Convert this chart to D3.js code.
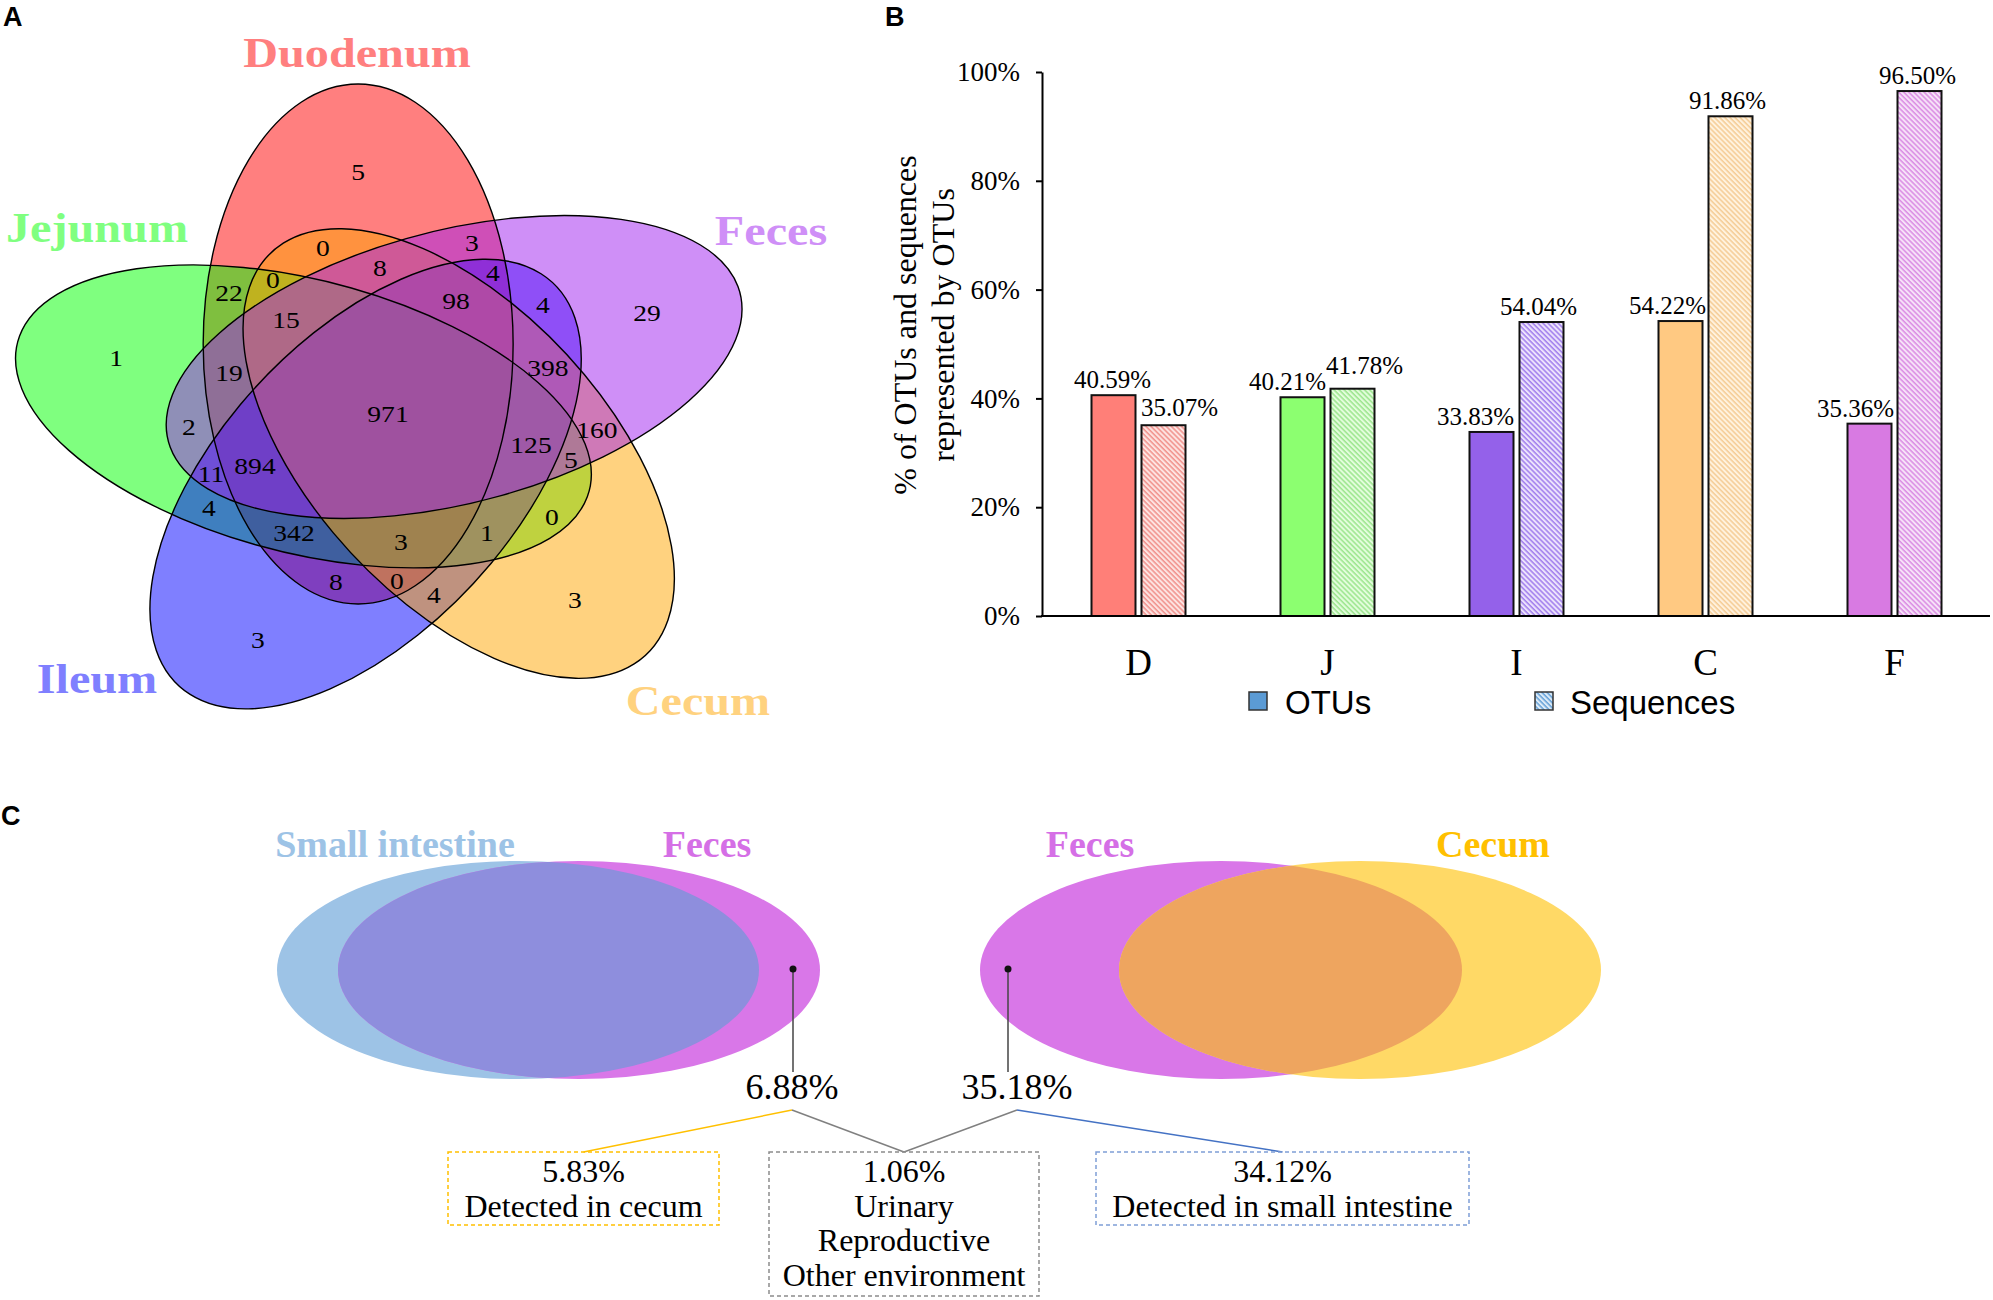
<!DOCTYPE html>
<html>
<head>
<meta charset="utf-8">
<script src="https://cdn.jsdelivr.net/npm/d3@7"></script>
<style>
  body { margin: 0; background: #fff; }
  svg { display: block; }
</style>
</head>
<body>
<div id="chart"></div>
<script>
// ---------- data ----------
// A: five-set Venn (counts listed in the same order as vennCountXY below)
const vennSets = ["Duodenum", "Jejunum", "Ileum", "Cecum", "Feces"];
const vennCounts = [5, 0, 8, 22, 0, 15, 1, 19, 2, 971, 3, 4, 98, 4, 29, 398,
                    160, 125, 5, 11, 894, 4, 342, 8, 3, 3, 1, 0, 0, 4, 3];

// B: grouped bars
const barCats = ["D", "J", "I", "C", "F"];
const barSeries = ["OTUs", "Sequences"];
const otuPct = [40.59, 40.21, 33.83, 54.22, 35.36];
const seqPct = [35.07, 41.78, 54.04, 91.86, 96.50];
const yTicks = [0, 20, 40, 60, 80, 100];

// C: two-set comparisons
const pairLeft = ["Small intestine", "Feces"];
const pairRight = ["Feces", "Cecum"];
const uniquePct = [6.88, 35.18];
const splitPct = [5.83, 1.06, 34.12];
const splitText = [["Detected in cecum"], ["Urinary", "Reproductive", "Other environment"], ["Detected in small intestine"]];

// ---------- layout / style ----------
const W = 1993, H = 1300;
const serif = "'Liberation Serif','Times New Roman',serif";
const sans = "'Liberation Sans',Arial,sans-serif";

const svg = d3.select("#chart").append("svg")
  .attr("width", W).attr("height", H)
  .attr("viewBox", [0, 0, W, H]);

svg.append("rect").attr("width", W).attr("height", H).attr("fill", "#fff");

// panel letters
svg.selectAll("text.panel")
  .data([["A", 3, 26], ["B", 885, 26], ["C", 1, 825]])
  .join("text")
    .attr("class", "panel")
    .attr("x", d => d[1]).attr("y", d => d[2])
    .attr("font-family", sans).attr("font-weight", "bold").attr("font-size", 27)
    .text(d => d[0]);

// ===== A: Venn =====
const venn = { cx: 388, cy: 413, sx: 1.148, u: -26, v: -69, a: 260, b: 135 };
const vennFill = ["#ff0000", "#00ff00", "#0000ff", "#ffa500", "#a020f0"];
const vennRot = [0, 72, 144, 216, 288];
const vennNameColor = ["#ff7f7f", "#80ff80", "#7f7fff", "#ffd27f", "#cf8ff7"];
const vennNameXY = [[357, 67], [97, 242], [97, 693], [698, 715], [771, 245]];
const vennCountXY = [
  [358, 172], [323, 248], [380, 268], [229, 293], [273, 280], [286, 320],
  [116, 358], [229, 373], [189, 427], [388, 414], [472, 243], [493, 273],
  [456, 301], [543, 305], [647, 313], [548, 368], [597, 430], [531, 445],
  [571, 460], [211, 474], [255, 466], [209, 508], [294, 533], [336, 582],
  [258, 640], [401, 542], [487, 533], [552, 517], [397, 581], [434, 595],
  [575, 600]
];
const toLocal = p => [(p[0] - venn.cx) / venn.sx, p[1] - venn.cy];

const gV = svg.append("g")
  .attr("transform", `translate(${venn.cx},${venn.cy}) scale(${venn.sx},1)`);

// fills (semi-transparent, drawn in set order)
gV.selectAll("g.fill")
  .data(vennSets)
  .join("g")
    .attr("class", "fill")
    .attr("transform", (d, i) => `rotate(${-vennRot[i]})`)
  .append("ellipse")
    .attr("cx", venn.u).attr("cy", venn.v)
    .attr("rx", venn.b).attr("ry", venn.a)
    .attr("fill", (d, i) => vennFill[i])
    .attr("fill-opacity", 0.5);

// outlines on top
gV.selectAll("g.outline")
  .data(vennSets)
  .join("g")
    .attr("class", "outline")
    .attr("transform", (d, i) => `rotate(${-vennRot[i]})`)
  .append("ellipse")
    .attr("cx", venn.u).attr("cy", venn.v)
    .attr("rx", venn.b).attr("ry", venn.a)
    .attr("fill", "none")
    .attr("stroke", "#000")
    .attr("stroke-width", 1.4)
    .attr("vector-effect", "non-scaling-stroke");

// region counts
gV.selectAll("text.count")
  .data(vennCounts)
  .join("text")
    .attr("class", "count")
    .attr("x", (d, i) => toLocal(vennCountXY[i])[0])
    .attr("y", (d, i) => toLocal(vennCountXY[i])[1])
    .attr("text-anchor", "middle")
    .attr("dominant-baseline", "central")
    .attr("font-family", serif).attr("font-size", 24)
    .attr("fill", "#000")
    .text(d => d);

// set names
gV.selectAll("text.name")
  .data(vennSets)
  .join("text")
    .attr("class", "name")
    .attr("x", (d, i) => toLocal(vennNameXY[i])[0])
    .attr("y", (d, i) => toLocal(vennNameXY[i])[1])
    .attr("text-anchor", "middle")
    .attr("font-family", serif).attr("font-weight", "bold").attr("font-size", 42)
    .attr("fill", (d, i) => vennNameColor[i])
    .text(d => d);

// ===== B: bars =====
const otuColor = ["#ff7f78", "#8cff70", "#9461ea", "#ffc982", "#d87ae2"];
const seqBg = ["#fde4e2", "#e3fddc", "#ece3fc", "#fff2de", "#f6e2f8"];
const seqLine = ["#f08a84", "#95e486", "#9a74ec", "#f4c98e", "#d884e2"];

const defs = svg.append("defs");
function hatch(id, bg, fg) {
  const p = defs.append("pattern")
    .attr("id", id)
    .attr("patternUnits", "userSpaceOnUse")
    .attr("width", 3.6).attr("height", 3.6)
    .attr("patternTransform", "rotate(-45)");
  p.append("rect").attr("width", 3.6).attr("height", 3.6).attr("fill", bg);
  p.append("line").attr("x1", 1).attr("y1", 0).attr("x2", 1).attr("y2", 3.6)
    .attr("stroke", fg).attr("stroke-width", 1.4);
}
barCats.forEach((c, i) => hatch("seq" + i, seqBg[i], seqLine[i]));
hatch("seqLegend", "#ddebf7", "#5b9bd5");

const yB = d3.scaleLinear().domain([0, 100]).range([616, 72]);
const xB = d3.scaleBand().domain(barCats).range([1044, 1989]);
const xS = d3.scaleBand().domain(barSeries)
  .range([xB.bandwidth() / 2 - 47, xB.bandwidth() / 2 + 47])
  .paddingInner(0.12);

const barRows = barCats.map((c, i) => ({ cat: c, i: i, vals: [otuPct[i], seqPct[i]] }));

// label nudges (as placed in the original)
const labelDx = [[-1, 16], [-15, 12], [-16, -3], [-13, -3], [-14, -2]];
const labelDy = [[0, -2], [0, -8], [0, 0], [0, 0], [0, 0]];

const groups = svg.append("g").selectAll("g.grp")
  .data(barRows)
  .join("g")
    .attr("class", "grp")
    .attr("transform", d => `translate(${xB(d.cat)},0)`);

groups.selectAll("rect")
  .data(d => d.vals.map((v, k) => ({ v: v, k: k, i: d.i })))
  .join("rect")
    .attr("x", d => xS(barSeries[d.k]))
    .attr("width", xS.bandwidth())
    .attr("y", d => yB(d.v))
    .attr("height", d => yB(0) - yB(d.v))
    .attr("fill", d => d.k === 0 ? otuColor[d.i] : `url(#seq${d.i})`)
    .attr("stroke", "#111")
    .attr("stroke-width", 2);

groups.selectAll("text.val")
  .data(d => d.vals.map((v, k) => ({ v: v, k: k, i: d.i })))
  .join("text")
    .attr("class", "val")
    .attr("x", d => xS(barSeries[d.k]) + xS.bandwidth() / 2 + labelDx[d.i][d.k])
    .attr("y", d => yB(d.v) - 7 + labelDy[d.i][d.k])
    .attr("text-anchor", "middle")
    .attr("font-family", serif).attr("font-size", 25)
    .text(d => d.v.toFixed(2) + "%");

// y axis
const yAxis = svg.append("g")
  .attr("transform", "translate(1042,0)")
  .call(d3.axisLeft(yB).tickValues(yTicks).tickFormat(d => d + "%")
        .tickSize(6).tickSizeOuter(0).tickPadding(16));
yAxis.select(".domain").attr("stroke", "#000").attr("stroke-width", 2);
yAxis.selectAll(".tick line").attr("stroke", "#000").attr("stroke-width", 2);
yAxis.selectAll("text").attr("font-family", serif).attr("font-size", 27).attr("fill", "#000");

// x axis
const xAxis = svg.append("g")
  .attr("transform", `translate(0,${yB(0)})`)
  .call(d3.axisBottom(xB).tickSize(0).tickSizeOuter(0).tickPadding(33));
xAxis.select(".domain").attr("d", "M1041,0H1990").attr("stroke", "#000").attr("stroke-width", 2);
xAxis.selectAll("text").attr("font-family", serif).attr("font-size", 37).attr("fill", "#000");

// y title
svg.append("text")
  .attr("transform", "translate(905,325) rotate(-90)")
  .attr("text-anchor", "middle").attr("dominant-baseline", "central")
  .attr("font-family", serif).attr("font-size", 32)
  .text("% of OTUs and sequences");
svg.append("text")
  .attr("transform", "translate(943,325) rotate(-90)")
  .attr("text-anchor", "middle").attr("dominant-baseline", "central")
  .attr("font-family", serif).attr("font-size", 32)
  .text("represented by OTUs");

// legend
const legendX = [1249, 1535];
const leg = svg.selectAll("g.leg")
  .data(barSeries)
  .join("g")
    .attr("class", "leg")
    .attr("transform", (d, i) => `translate(${legendX[i]},692)`);
leg.append("rect")
  .attr("width", 18).attr("height", 18)
  .attr("fill", (d, i) => i === 0 ? "#5b9bd5" : "url(#seqLegend)")
  .attr("stroke", "#333").attr("stroke-width", 1.5);
leg.append("text")
  .attr("x", (d, i) => i === 0 ? 36 : 35).attr("y", 10)
  .attr("dominant-baseline", "central")
  .attr("font-family", sans).attr("font-size", 33)
  .text(d => d);

// ===== C: two-set diagrams =====
const cY = 970, cRx = 241, cRy = 109;
const colBlue = "#9dc3e6", colMag = "#d977e8", colYel = "#ffd966";
const pairs = [
  { names: pairLeft, cx: [518, 579], col: [colBlue, colMag], mix: "#8e8edd", nameX: [395, 707], nameCol: ["#9dc3e6", "#d56fe6"] },
  { names: pairRight, cx: [1221, 1360], col: [colMag, colYel], mix: "#eea55f", nameX: [1090, 1493], nameCol: ["#d56fe6", "#ffc000"] }
];

pairs.forEach((p, pi) => {
  const g = svg.append("g");
  const clipId = "clipPair" + pi;
  defs.append("clipPath").attr("id", clipId)
    .append("ellipse").attr("cx", p.cx[0]).attr("cy", cY).attr("rx", cRx).attr("ry", cRy);
  g.selectAll("ellipse.base")
    .data(p.cx)
    .join("ellipse")
      .attr("class", "base")
      .attr("cx", d => d).attr("cy", cY).attr("rx", cRx).attr("ry", cRy)
      .attr("fill", (d, i) => p.col[i]);
  g.append("ellipse")
    .attr("cx", p.cx[1]).attr("cy", cY).attr("rx", cRx).attr("ry", cRy)
    .attr("fill", p.mix)
    .attr("clip-path", `url(#${clipId})`);
  g.selectAll("text.pname")
    .data(p.names)
    .join("text")
      .attr("class", "pname")
      .attr("x", (d, i) => p.nameX[i]).attr("y", 857)
      .attr("text-anchor", "middle")
      .attr("font-family", serif).attr("font-weight", "bold").attr("font-size", 38)
      .attr("fill", (d, i) => p.nameCol[i])
      .text(d => d);
});

// pointers from the feces-only parts
const dotX = [793, 1008];
const pctX = [792, 1017];
svg.selectAll("line.ptr")
  .data(dotX)
  .join("line")
    .attr("class", "ptr")
    .attr("x1", d => d).attr("x2", d => d)
    .attr("y1", 969).attr("y2", 1072)
    .attr("stroke", "#444").attr("stroke-width", 1.5);
svg.selectAll("circle.dot")
  .data(dotX)
  .join("circle")
    .attr("class", "dot")
    .attr("cx", d => d).attr("cy", 969).attr("r", 3.5)
    .attr("fill", "#111");
svg.selectAll("text.upct")
  .data(uniquePct)
  .join("text")
    .attr("class", "upct")
    .attr("x", (d, i) => pctX[i]).attr("y", 1099)
    .attr("text-anchor", "middle")
    .attr("font-family", serif).attr("font-size", 36)
    .text(d => d.toFixed(2) + "%");

// breakdown boxes
const boxes = [
  { x0: 448, x1: 719, y1: 1225, col: "#ffc000", from: 0 },
  { x0: 769, x1: 1039, y1: 1296, col: "#8c8c8c", from: -1 },
  { x0: 1096, x1: 1469, y1: 1225, col: "#7f9fd6", from: 1 }
];
const boxTop = 1152, linkY = 1110;
const linkCol = ["#ffc000", "#808080", "#4472c4"];

// connector lines
const links = [];
boxes.forEach((b, i) => {
  const bx = (b.x0 + b.x1) / 2;
  if (b.from >= 0) links.push({ x1: pctX[b.from], x2: bx, col: linkCol[i] });
  else pctX.forEach(px => links.push({ x1: px, x2: bx, col: linkCol[i] }));
});
svg.selectAll("line.link")
  .data(links)
  .join("line")
    .attr("class", "link")
    .attr("x1", d => d.x1).attr("y1", linkY)
    .attr("x2", d => d.x2).attr("y2", boxTop)
    .attr("stroke", d => d.col).attr("stroke-width", 1.5);

const gb = svg.selectAll("g.box")
  .data(boxes)
  .join("g")
    .attr("class", "box");
gb.append("rect")
  .attr("x", d => d.x0).attr("y", boxTop)
  .attr("width", d => d.x1 - d.x0).attr("height", d => d.y1 - boxTop)
  .attr("fill", "none")
  .attr("stroke", d => d.col).attr("stroke-width", 1.5)
  .attr("stroke-dasharray", "4,3");
gb.selectAll("text")
  .data((d, i) => [splitPct[i].toFixed(2) + "%"].concat(splitText[i])
                    .map((t, k) => ({ t: t, k: k, x: (d.x0 + d.x1) / 2 })))
  .join("text")
    .attr("x", d => d.x).attr("y", d => 1182 + d.k * 34.5)
    .attr("text-anchor", "middle")
    .attr("font-family", serif).attr("font-size", 32)
    .text(d => d.t);
</script>
</body>
</html>
